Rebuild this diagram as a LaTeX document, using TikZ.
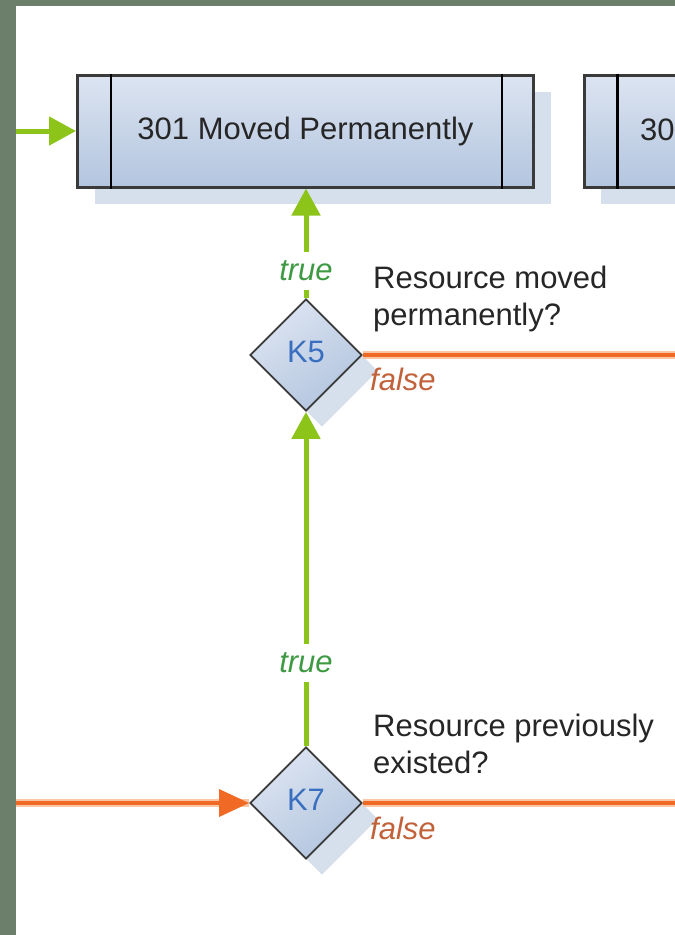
\documentclass[tikz,border=0pt]{standalone}
\usepackage{fontspec}
\setmainfont{Liberation Sans}
\usetikzlibrary{shapes.geometric,arrows.meta,shadows}
\definecolor{framecol}{HTML}{6C7F6A}
\definecolor{boxline}{HTML}{3A3A3A}
\definecolor{boxtop}{HTML}{DCE4F1}
\definecolor{boxbot}{HTML}{B3C5DF}
\definecolor{shad}{HTML}{D6DFEC}
\definecolor{txt}{HTML}{262626}
\definecolor{kblue}{HTML}{3A6FC0}
\definecolor{lime}{HTML}{8CC419}
\definecolor{truecol}{HTML}{3E9A42}
\definecolor{falsecol}{HTML}{C1623A}
\definecolor{orcore}{HTML}{F06A26}
\definecolor{orhalo}{HTML}{F9C7A6}
\newcommand{\dfont}{\fontsize{31}{37}\selectfont}
\begin{document}
\begin{tikzpicture}[x=1pt,y=-1pt,
  statebox/.style={draw=boxline, line width=3pt, top color=boxtop, bottom color=boxbot,
    minimum width=456pt, minimum height=112pt, inner sep=0pt, font=\dfont, text=txt,
    text height=22pt, text depth=5pt,
    general shadow={fill=shad, shadow xshift=17pt, shadow yshift=-17pt}},
  innerline/.style={draw=black, line width=2.4pt},
  decision/.style={diamond, draw=boxline, line width=1.8pt, top color=boxtop, bottom color=boxbot,
    shading angle=35, minimum width=112pt, minimum height=112pt, inner sep=0pt,
    font=\dfont, text=kblue, text height=22pt, text depth=8pt,
    general shadow={fill=shad, shadow xshift=16pt, shadow yshift=-16pt}},
  question/.style={font=\dfont, text=txt, align=left, anchor=base west, inner sep=0pt},
  truelbl/.style={font=\dfont\itshape, text=truecol, fill=white, inner xsep=2pt, inner ysep=6.5pt,
    text height=22pt, text depth=3pt},
  falselbl/.style={font=\dfont\itshape, text=falsecol, anchor=base west, inner sep=0pt},
  garrow/.style={draw=lime, line width=5pt, -{Triangle[length=27pt,width=28pt]}},
  oline/.style={draw=orcore, line width=3.5pt, preaction={draw=orhalo, line width=7.5pt, arrows=-}},
  oarrow/.style={oline, -{Triangle[length=30pt,width=27pt]}}
]
\useasboundingbox (0,0) rectangle (675,935);
\clip (0,0) rectangle (675,935);
\fill[white] (0,0) rectangle (675,935);
\fill[framecol] (0,0) rectangle (16,935);
\fill[framecol] (0,0) rectangle (675,6);

% state boxes
\node[statebox] (b1) at (305.5,131) {301 Moved Permanently};
\draw[innerline] ([xshift=35pt]b1.north west) -- ([xshift=35pt]b1.south west);
\draw[innerline] ([xshift=-33pt]b1.north east) -- ([xshift=-33pt]b1.south east);
\node[statebox] (b2) at (812,131) {};
\draw[innerline] ([xshift=35pt]b2.north west) -- ([xshift=35pt]b2.south west);
\node[font=\dfont, text=txt, anchor=base west, inner sep=0pt] (b2t) at (640,140) {30};

% decisions
\node[decision] (K5) at (306,355) {K5};
\node[decision] (K7) at (306,803) {K7};

\node[question] (q5) at (373,325) {Resource moved\\permanently?};
\node[question] (q7) at (373,773) {Resource previously\\existed?};

\coordinate (in1) at (16,131);
\coordinate (in7) at (16,803);
\coordinate (out5) at (676,355);
\coordinate (out7) at (676,803);

% connectors
\draw[garrow] (in1) -- (b1.west);
\draw[garrow] (K5.north) -- node[truelbl, pos=0.25] (t5) {true} (K5.north |- b1.south);
\draw[garrow] (K7.north) -- node[truelbl, pos=0.25] (t7) {true} (K5.south);
\draw[oline] (K5.east) -- (out5);
\draw[oarrow] (in7) -- (K7.west);
\draw[oline] (K7.east) -- (out7);

\node[falselbl] (f5) at (370,390) {false};
\node[falselbl] (f7) at (370,839) {false};
\end{tikzpicture}
\end{document}
